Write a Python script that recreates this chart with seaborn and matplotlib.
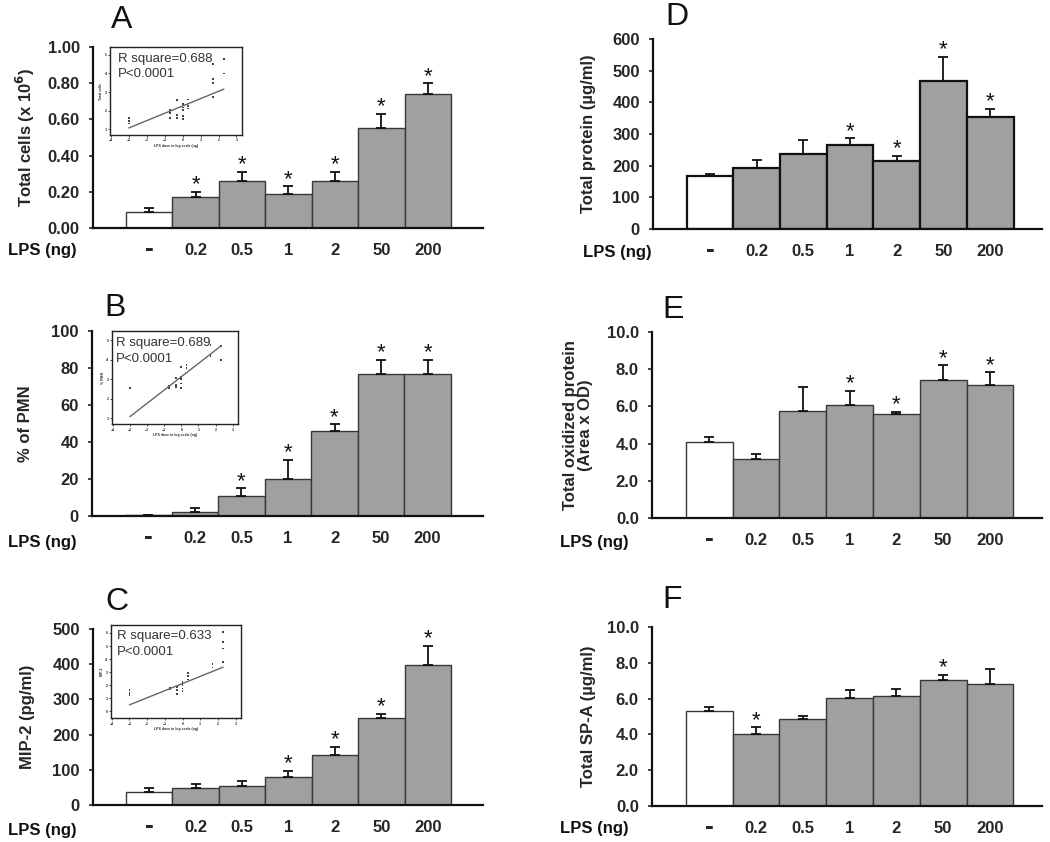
import numpy as np
import pandas as pd
import matplotlib
matplotlib.use("Agg")
import matplotlib.pyplot as plt
import matplotlib.transforms as mtrans
import seaborn as sns
from matplotlib.ticker import FormatStrFormatter

# ---------------- data ----------------
doses = ['-', '0.2', '0.5', '1', '2', '50', '200']

cells_mean = [0.09, 0.17, 0.26, 0.19, 0.26, 0.55, 0.74]
cells_err = [0.02, 0.03, 0.05, 0.04, 0.05, 0.08, 0.06]
cells_sig = [False, True, True, True, True, True, True]

pmn_mean = [0.5, 2, 11, 20, 46, 77, 77]
pmn_err = [0.3, 2.5, 4, 10.5, 3.5, 7.5, 7.5]
pmn_sig = [False, False, True, True, True, True, True]

mip_mean = [37, 49, 55, 80, 143, 246, 397]
mip_err = [10, 10, 13, 17, 22, 13, 55]
mip_sig = [False, False, False, True, True, True, True]

prot_mean = [166, 193, 237, 264, 216, 468, 354]
prot_err = [9, 26, 44, 23, 15, 75, 25]
prot_sig = [False, False, False, True, True, True, True]

ox_mean = [4.1, 3.15, 5.75, 6.1, 5.57, 7.4, 7.17]
ox_err = [0.23, 0.3, 1.3, 0.75, 0.14, 0.82, 0.67]
ox_sig = [False, False, False, True, True, True, True]

spa_mean = [5.3, 4.04, 4.84, 6.05, 6.15, 7.02, 6.84]
spa_err = [0.24, 0.36, 0.2, 0.44, 0.38, 0.31, 0.81]
spa_sig = [False, True, False, False, False, True, False]

# inset regressions (x = log10 LPS dose)
cells_sc_x = [-3, -3, -3, -0.7, -0.7, -0.7, -0.3, -0.3, -0.3, 0, 0, 0, 0, 0,
              0.3, 0.3, 0.3, 1.7, 1.7, 1.7, 1.7, 2.3, 2.3]
cells_sc_y = [1.61, 1.43, 1.30, 2.03, 1.87, 1.61, 2.57, 1.77, 1.61, 2.34, 2.17, 2.03, 1.73, 1.56,
              2.60, 2.25, 2.11, 4.51, 3.70, 3.47, 2.74, 4.77, 3.99]
cells_fit = [0.394, 2.25]

pmn_sc_x = [-3, -0.7, -0.7, -0.3, -0.3, -0.3, 0, 0, 0, 0, 0, 0.3, 0.3, 1.7, 1.7, 2.3, 2.3]
pmn_sc_y = [2.55, 2.63, 2.55, 3.07, 2.69, 2.60, 3.64, 3.12, 3.0, 2.77, 2.55, 3.73, 3.56,
            4.74, 4.2, 4.69, 3.99]
pmn_fit = [0.683, 3.12]

mip_sc_x = [-3, -3, -3, -0.7, -0.7, -0.3, -0.3, -0.3, 0, 0, 0, 0, 0.3, 0.3, 0.3,
            1.7, 1.7, 2.3, 2.3, 2.3, 2.3]
mip_sc_y = [1.61, 1.40, 1.22, 1.79, 1.69, 1.87, 1.61, 1.30, 2.26, 2.0, 1.74, 1.56,
            2.91, 2.70, 2.44, 3.61, 3.35, 6.1, 5.32, 4.81, 3.77]
mip_fit = [0.545, 2.125]

fit_range = [-3.0, 2.3]

# ---------------- style ----------------
sns.set_style("white")
plt.rcParams['font.family'] = ['Liberation Sans', 'DejaVu Sans']
plt.rcParams['font.weight'] = 'bold'
plt.rcParams['axes.labelweight'] = 'bold'

W, H = 1050, 842
fig = plt.figure(figsize=(W / 100, H / 100), dpi=100)

GRAY = '#a0a0a0'
palette = {d: (GRAY if i > 0 else 'white') for i, d in enumerate(doses)}


def px_axes(x0, x1, ytop, ybot):
    return fig.add_axes([x0 / W, 1 - ybot / H, (x1 - x0) / W, (ybot - ytop) / H])


def bar_panel(ax, mean, err, sig, ymax, ystep, fmt, ylabel, xlim,
              ylab_x, edge_lw=1.0, edge_col='#383838'):
    df = pd.DataFrame({'dose': pd.Categorical(doses, categories=doses, ordered=True),
                       'value': mean})
    sns.barplot(data=df, x='dose', y='value', hue='dose', palette=palette,
                order=doses, hue_order=doses, width=1.0, saturation=1,
                edgecolor=edge_col, linewidth=edge_lw, errorbar=None,
                legend=False, ax=ax, zorder=2)
    pos = np.arange(len(doses))
    ax.errorbar(pos, mean, yerr=[np.zeros(len(mean)), err], fmt='none',
                ecolor='#111111', elinewidth=1.3, capsize=3.4, capthick=1.3, zorder=3)
    for i, s in enumerate(sig):
        if s:
            ax.annotate('*', xy=(i, mean[i] + err[i]), xytext=(0, 1.0),
                        textcoords='offset points', ha='center', va='baseline',
                        fontsize=16, fontweight='normal', color='#111111')
    ax.set_xlim(*xlim)
    ax.set_ylim(0, ymax)
    ax.set_yticks(np.arange(0, ymax + ystep / 2, ystep))
    ax.yaxis.set_major_formatter(FormatStrFormatter(fmt))
    ax.set_xlabel('')
    ax.set_ylabel(ylabel, fontsize=12, fontweight='bold', va='center',
                  linespacing=1.05)
    ax.yaxis.set_label_coords(ylab_x, 0.5)
    ax.tick_params(axis='x', length=0, pad=11, labelsize=12)
    ax.tick_params(axis='y', length=3, width=1.2, direction='out', pad=6.5,
                   labelsize=12, left=True)
    for lbl in ax.get_xticklabels() + ax.get_yticklabels():
        lbl.set_fontweight('bold')
    # the control "-" label is drawn as a heavy dash in the reference
    dash = ax.get_xticklabels()[0]
    dash.set_fontsize(19)
    dash.set_transform(dash.get_transform() +
                       mtrans.ScaledTranslation(0, 4.5 / 72, fig.dpi_scale_trans))
    for side in ['top', 'right']:
        ax.spines[side].set_visible(False)
    for side in ['left', 'bottom']:
        ax.spines[side].set_linewidth(1.6)
        ax.spines[side].set_color('#111111')


def inset(ax, bounds, xs, ys, fit, ylim, yticks, lines, tpos, ylab):
    ins = ax.inset_axes(bounds)
    ins.set_facecolor('white')
    sns.scatterplot(x=xs, y=ys, ax=ins, s=1.6, color='#444444', marker='s',
                    edgecolor='none', legend=False)
    xx = np.array(fit_range)
    sns.lineplot(x=xx, y=fit[0] * xx + fit[1], ax=ins, color='#666666', lw=1.0)
    ins.set_xlim(-4.05, 3.3)
    ins.set_ylim(*ylim)
    ins.set_xticks(range(-4, 4))
    ins.set_yticks(yticks)
    ins.tick_params(length=1.5, width=0.6, labelsize=2.5, pad=1, direction='out',
                    left=True, bottom=True)
    ins.set_xlabel('LPS dose in log scale (ng)', fontsize=2.5, labelpad=1)
    ins.set_ylabel(ylab, fontsize=2.5, labelpad=1)
    for sp in ins.spines.values():
        sp.set_linewidth(1.0)
        sp.set_color('#222222')
        sp.set_visible(True)
    x0, y1, y2 = tpos
    ins.text(x0, y1, lines[0], transform=ins.transAxes, fontsize=9.5,
             fontweight='normal', color='#333333', va='center', ha='left')
    ins.text(x0, y2, lines[1], transform=ins.transAxes, fontsize=9.5,
             fontweight='normal', color='#333333', va='center', ha='left')


# ---------------- panels ----------------
xl_left = (-1.21, 7.19)
xl_right = (-1.22, 7.11)

axA = px_axes(93, 483, 47, 228)
bar_panel(axA, cells_mean, cells_err, cells_sig, 1.0, 0.2, '%.2f',
          'Total cells (x 10$^{\\mathbf{6}}$)', xl_left, -0.172)
inset(axA, [0.0436, 0.514, 0.338, 0.486], cells_sc_x, cells_sc_y, cells_fit,
      (0.69, 5.42), [1, 2, 3, 4, 5], ['R square=0.688', 'P<0.0001'],
      (0.06, 0.864, 0.693), 'Total cells')

axB = px_axes(92, 483, 331, 516)
bar_panel(axB, pmn_mean, pmn_err, pmn_sig, 100, 20, '%d', '% of PMN',
          xl_left, -0.169)
inset(axB, [0.051, 0.497, 0.322, 0.503], pmn_sc_x, pmn_sc_y, pmn_fit,
      (0.69, 5.47), [1, 2, 3, 4, 5], ['R square=0.689', 'P<0.0001'],
      (0.032, 0.874, 0.699), '% PMN')

axC = px_axes(93, 483, 629, 805)
bar_panel(axC, mip_mean, mip_err, mip_sig, 500, 100, '%d', 'MIP-2 (pg/ml)',
          xl_left, -0.169)
inset(axC, [0.046, 0.494, 0.333, 0.528], mip_sc_x, mip_sc_y, mip_fit,
      (-0.52, 6.6), [0, 1, 2, 3, 4, 5, 6], ['R square=0.633', 'P<0.0001'],
      (0.046, 0.882, 0.71), 'MIP-2')

axD = px_axes(653, 1042, 39, 229)
bar_panel(axD, prot_mean, prot_err, prot_sig, 600, 100, '%d',
          'Total protein (µg/ml)', xl_right, -0.167, edge_lw=1.6,
          edge_col='#111111')

axE = px_axes(652, 1042, 332, 518)
bar_panel(axE, ox_mean, ox_err, ox_sig, 10, 2, '%.1f',
          'Total oxidized protein\n(Area x OD)', xl_right, -0.19)

axF = px_axes(652, 1042, 627, 806)
bar_panel(axF, spa_mean, spa_err, spa_sig, 10, 2, '%.1f',
          'Total SP-A (µg/ml)', xl_right, -0.164)

# panel letters
for letter, x, y in [('A', 122, 20), ('B', 115, 308), ('C', 117, 602),
                     ('D', 677, 17), ('E', 673, 310), ('F', 672, 600)]:
    fig.text(x / W, 1 - y / H, letter, fontsize=23, fontweight='normal',
             ha='center', va='center', color='#111111')

# LPS (ng) row labels
for x, y in [(8, 250), (8, 543), (8, 830), (583, 253), (560, 543), (560, 829)]:
    fig.text(x / W, 1 - y / H, 'LPS (ng)', fontsize=12, fontweight='bold',
             ha='left', va='center', color='#111111')

fig.savefig('out.png', dpi=100)
